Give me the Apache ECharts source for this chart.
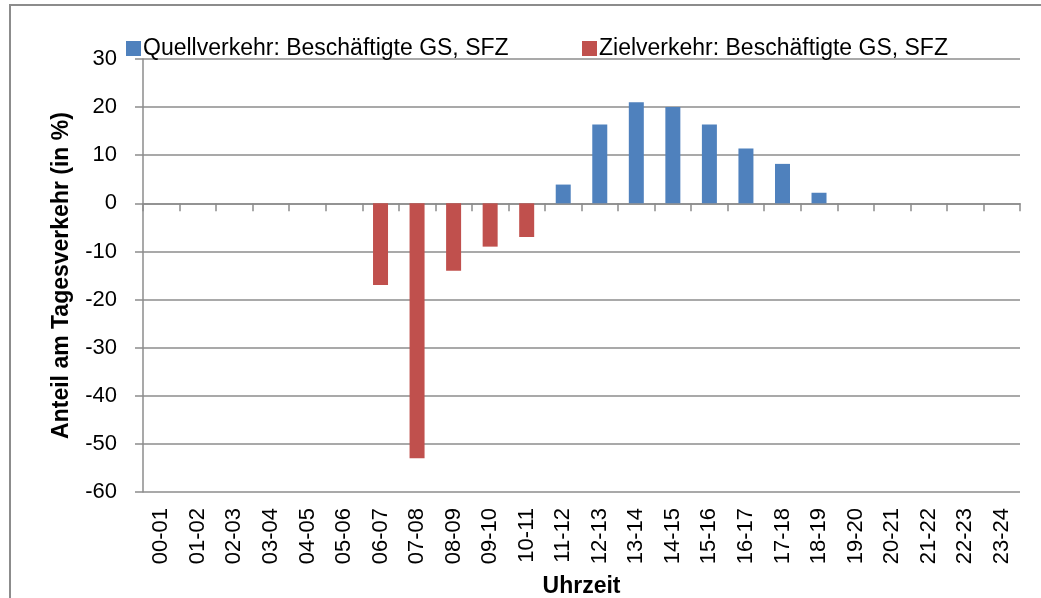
<!DOCTYPE html>
<html>
<head>
<meta charset="utf-8">
<script src="https://cdn.jsdelivr.net/npm/echarts@6/dist/echarts.min.js"></script>
<style>
  html, body { margin: 0; padding: 0; background: #fff; }
  #frame {
    position: absolute; left: 9px; top: 4px; width: 1040px; height: 600px;
    border: 2px solid #8c8c8c; box-sizing: border-box;
  }
  #chart { position: absolute; left: 0; top: 0; width: 1041px; height: 598px; }
</style>
</head>
<body>
<div id="frame"></div>
<div id="chart"></div>
<script>
// Stundenintervalle
const hours = ['00-01', '01-02', '02-03', '03-04', '04-05', '05-06', '06-07', '07-08',
  '08-09', '09-10', '10-11', '11-12', '12-13', '13-14', '14-15', '15-16', '16-17',
  '17-18', '18-19', '19-20', '20-21', '21-22', '22-23', '23-24']

// Quellverkehr (positiv)
const quellValues = [0, 0, 0, 0, 0, 0, 0, 0, 0, 0, 0, 3.9, 16.4, 21, 20, 16.4, 11.4, 8.2, 2.2, 0, 0, 0, 0, 0]

// Zielverkehr (negativ)
const zielValues = [0, 0, 0, 0, 0, 0, -17, -53, -14, -9, -7, 0, 0, 0, 0, 0, 0, 0, 0, 0, 0, 0, 0, 0]

const yTicks = { min: -60, max: 30, interval: 10 }

const quellName = 'Quellverkehr: Beschäftigte GS, SFZ'
const zielName = 'Zielverkehr: Beschäftigte GS, SFZ'

const fontFamily = 'Liberation Sans, Arial, sans-serif'
const gridColor = '#8c8c8c'

const chart = echarts.init(document.getElementById('chart'))

// eine Legende pro Serie, damit die Positionen stimmen
function legendAt(left, name) {
  return {
    top: 32,
    left: left,
    itemWidth: 15,
    itemHeight: 15,
    icon: 'rect',
    textStyle: { fontSize: 23, color: '#000', fontFamily, padding: [0, 0, 0, -3] },
    data: [name]
  }
}

const option = {
  animation: false,
  textStyle: { fontFamily },
  legend: [legendAt(121, quellName), legendAt(577, zielName)],
  grid: {
    left: 143,
    right: 21,
    top: 59,
    bottom: 106,
    containLabel: false,
    outerBoundsMode: 'none'
  },
  xAxis: [
    {
      // Beschriftung unten
      type: 'category',
      data: hours,
      position: 'bottom',
      axisLine: { show: false, onZero: false },
      axisTick: { show: false },
      axisLabel: {
        rotate: 90,
        interval: 0,
        margin: 16,
        fontSize: 22,
        color: '#000',
        fontFamily
      },
      name: 'Uhrzeit',
      nameLocation: 'middle',
      nameGap: 83,
      nameTextStyle: { fontSize: 23, fontWeight: 'bold', color: '#000', fontFamily }
    },
    {
      // Nulllinie mit Ticks
      type: 'category',
      data: hours,
      position: 'bottom',
      axisLine: { show: true, onZero: true, lineStyle: { color: gridColor, width: 1.5 } },
      axisTick: { show: true, interval: 0, inside: false, length: 8, lineStyle: { color: gridColor, width: 1.5 } },
      axisLabel: { show: false, interval: 0 }
    }
  ],
  yAxis: {
    type: 'value',
    min: yTicks.min,
    max: yTicks.max,
    interval: yTicks.interval,
    axisLine: { show: true, lineStyle: { color: gridColor, width: 1.5 } },
    axisTick: { show: true, length: 8, lineStyle: { color: gridColor, width: 1.5 } },
    axisLabel: { fontSize: 22, color: '#000', margin: 26, fontFamily },
    splitLine: { lineStyle: { color: gridColor, width: 1.5 } },
    name: 'Anteil am Tagesverkehr (in %)',
    nameLocation: 'middle',
    nameGap: 70,
    nameTextStyle: { fontSize: 23, fontWeight: 'bold', color: '#000', fontFamily }
  },
  series: [
    {
      name: quellName,
      type: 'bar',
      xAxisIndex: 0,
      data: quellValues,
      barWidth: 15,
      barGap: '-100%',
      itemStyle: { color: '#4F81BD' }
    },
    {
      name: zielName,
      type: 'bar',
      xAxisIndex: 0,
      data: zielValues,
      barWidth: 15,
      itemStyle: { color: '#C0504D' }
    }
  ]
}

chart.setOption(option)
</script>
</body>
</html>
